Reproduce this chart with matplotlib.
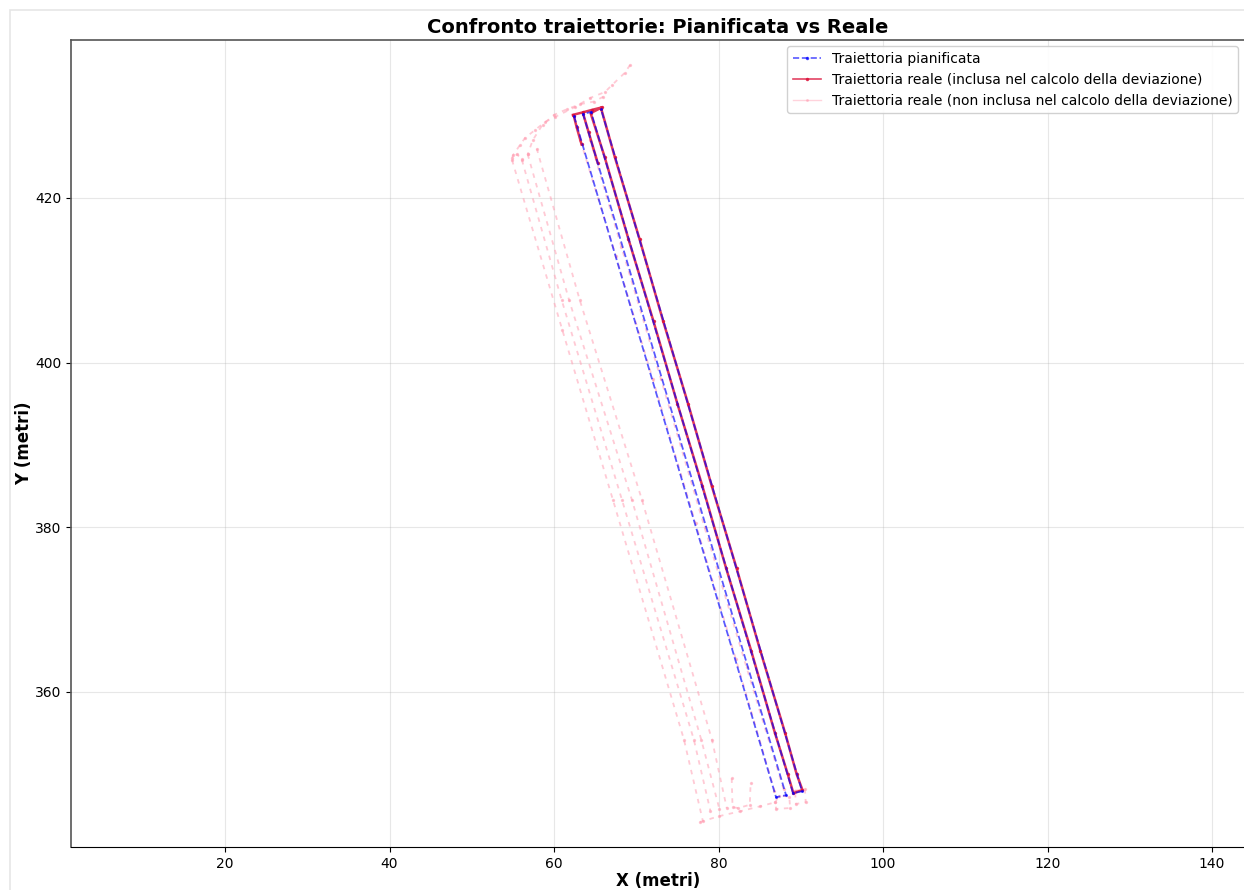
import numpy as np
import matplotlib
matplotlib.use("Agg")
import matplotlib.pyplot as plt
from matplotlib.lines import Line2D
from matplotlib.patches import Rectangle

# traiettoria pianificata (4 passate parallele)
plan_x = [62.43, 86.99, 88.21, 63.53, 64.50, 89.06, 90.15, 65.71]
plan_y = [429.96, 347.22, 347.46, 430.21, 430.45, 347.70, 347.94, 430.81]

# traiettoria reale inclusa nel calcolo della deviazione
incl_x = [62.3, 63.5, 64.6, 65.8,
          64.45, 66.15, 69.05, 72.10, 75.00, 78.04, 80.93, 83.97, 86.86, 88.42, 89.10,
          90.20, 89.50, 88.10, 85.08, 82.20, 79.18, 76.30, 73.28, 70.40, 67.38, 65.75]
incl_y = [430.1, 430.4, 430.7, 431.0,
          430.3, 425.0, 415.0, 405.0, 395.0, 385.0, 375.0, 365.0, 355.0, 350.0, 347.7,
          348.1, 350.0, 355.0, 365.0, 375.0, 385.0, 395.0, 405.0, 415.0, 425.0, 430.8]
incl_l1_x = [62.40, 62.75, 63.35]
incl_l1_y = [430.0, 428.6, 426.5]
incl_l2_x = [63.55, 64.20, 65.30]
incl_l2_y = [430.2, 428.0, 424.3]

# traiettoria reale non inclusa
pink_top_x = [69.24, 68.6, 67.05, 66.20, 64.38, 62.55, 60.12, 58.91, 57.69, 56.47, 55.87, 55.02,
              54.9, 55.5, 56.1]
pink_top_y = [436.15, 435.2, 433.72, 432.88, 432.15, 431.05, 429.84, 429.23, 428.26, 427.29, 426.44, 425.22,
              424.8, 425.3, 424.7]
pink_top2_x = [66.0, 64.8, 63.2, 61.6, 60.0, 58.6, 57.4, 56.8]
pink_top2_y = [432.3, 431.7, 431.4, 430.8, 430.1, 428.9, 427.0, 425.3]
pink_a_x = [54.9, 61.0, 67.17, 75.8, 78.1]
pink_a_y = [424.6, 404.0, 383.3, 354.2, 344.3]
pink_b_x = [56.1, 60.93, 68.27, 77.0, 79.0]
pink_b_y = [424.6, 407.6, 383.3, 354.2, 345.6]
pink_c_x = [56.8, 61.83, 69.48, 77.9, 80.1]
pink_c_y = [425.3, 407.6, 383.3, 354.2, 345.8]
pink_d_x = [57.9, 63.13, 70.70, 79.2, 81.0]
pink_d_y = [426.0, 407.6, 383.3, 354.2, 345.9]
pink_bot_x = [77.75, 80.0, 82.6, 85.0, 86.9, 87.3, 88.6, 88.7, 87.0, 86.9]
pink_bot_y = [344.2, 344.9, 345.5, 346.1, 346.6, 347.4, 347.3, 345.9, 345.8, 346.6]
pink_l1_x = [63.2, 67.5, 72.0, 77.2, 82.1, 86.8]
pink_l1_y = [427.0, 413.0, 398.0, 380.5, 364.0, 348.0]
pink_l2_x = [87.9, 83.4, 78.3, 73.0, 68.2, 64.4]
pink_l2_y = [348.2, 363.0, 380.0, 398.0, 414.0, 427.0]
pink_box_x = [89.3, 90.5, 90.6, 89.4, 89.3]
pink_box_y = [348.0, 348.2, 346.6, 346.4, 348.0]
pink_tick_x = [81.6, 81.7, 82.4, 83.8, 83.9]
pink_tick_y = [349.5, 346.0, 345.9, 346.3, 349.0]

pink_segments = [(pink_top_x, pink_top_y), (pink_top2_x, pink_top2_y),
                 (pink_a_x, pink_a_y), (pink_b_x, pink_b_y), (pink_c_x, pink_c_y),
                 (pink_d_x, pink_d_y), (pink_bot_x, pink_bot_y), (pink_l1_x, pink_l1_y),
                 (pink_l2_x, pink_l2_y), (pink_box_x, pink_box_y), (pink_tick_x, pink_tick_y)]

W, H = 1244, 890
fig = plt.figure(figsize=(W / 100, H / 100), dpi=100)
fig.patches.append(Rectangle((9.5 / W, -0.1), 1.2, (H - 9.5) / H + 0.1, transform=fig.transFigure,
                             fill=False, edgecolor="#e6e6e6", linewidth=1.2))
ax = fig.add_axes([71 / W, 43 / H, (1245 - 71) / W, (847 - 40) / H])

pink = "#ff9fb3"
for sx, sy in pink_segments:
    ax.plot(sx, sy, color=pink, alpha=0.55, linewidth=1.3, linestyle=(0, (2.5, 3)),
            marker="o", markersize=1.4)

ax.plot(incl_x, incl_y, color="crimson", alpha=0.85, linewidth=1.8, marker="o", markersize=1.4)
ax.plot(incl_l1_x, incl_l1_y, color="crimson", alpha=0.85, linewidth=1.8, marker="o", markersize=1.4)
ax.plot(incl_l2_x, incl_l2_y, color="crimson", alpha=0.85, linewidth=1.8, marker="o", markersize=1.4)

ax.plot(plan_x, plan_y, color="blue", alpha=0.65, linewidth=1.3, linestyle="--",
        marker="o", markersize=1.2)

ax.set_xlim(1.28, 144.0)
ax.set_ylim(341.17, 439.19)
ax.set_xticks([20, 40, 60, 80, 100, 120, 140])
ax.set_yticks([360, 380, 400, 420])
ax.tick_params(labelsize=10)
ax.grid(True, alpha=0.3)
ax.set_title("Confronto traiettorie: Pianificata vs Reale", fontsize=14, fontweight="bold", pad=5)
ax.set_xlabel("X (metri)", fontsize=12, fontweight="bold", labelpad=1)
ax.set_ylabel("Y (metri)", fontsize=12, fontweight="bold", labelpad=1)
for s in ["top", "left"]:
    ax.spines[s].set_color("#555555")
    ax.spines[s].set_linewidth(1.2)

handles = [
    Line2D([], [], color="blue", alpha=0.65, linestyle="--", linewidth=1.2, marker="o", markersize=1.5),
    Line2D([], [], color="crimson", alpha=0.8, linewidth=1.2, marker="o", markersize=1.5),
    Line2D([], [], color=pink, alpha=0.45, linewidth=1.0, marker="o", markersize=1.2),
]
labels = ["Traiettoria pianificata",
          "Traiettoria reale (inclusa nel calcolo della deviazione)",
          "Traiettoria reale (non inclusa nel calcolo della deviazione)"]
ax.legend(handles, labels, loc="upper right", fontsize=10, framealpha=0.9,
          bbox_to_anchor=(1238 / W, (H - 46) / H), bbox_transform=fig.transFigure, borderaxespad=0,
          handlelength=2.0)

fig.savefig("out.png", dpi=100)
